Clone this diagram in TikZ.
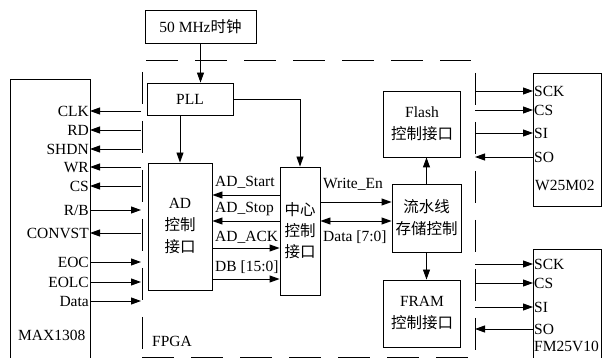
\documentclass[tikz,border=0pt]{standalone}
\usepackage{fontspec}
\setmainfont{Liberation Serif}
\newfontfamily\cjk{Noto Sans CJK SC}
\usetikzlibrary{arrows.meta}
\begin{document}
\begin{tikzpicture}[x=1pt,y=-1pt,
  font=\fontsize{15.5}{18}\selectfont,
  box/.style={draw, line width=0.9pt, inner sep=0pt, align=center, font=\fontsize{15.5}{22}\selectfont},
  arr/.style={line width=0.9pt, -{Triangle[length=10pt,width=7pt]}},
  biarr/.style={line width=0.9pt, {Triangle[length=10pt,width=7pt]}-{Triangle[length=10pt,width=7pt]}},
  ln/.style={line width=0.9pt},
  fpga/.style={line width=0.9pt, dash pattern=on 32pt off 17pt},
  pinl/.style={anchor=east, inner sep=1pt, text height=10.5pt, text depth=0pt},
  pinr/.style={anchor=west, inner sep=1pt, text height=10.5pt, text depth=0pt},
  lbl/.style={anchor=base west, inner sep=0pt},
]
\useasboundingbox (0,0) rectangle (603,358);
\clip (0,0) rectangle (603,358);

\coordinate (fl) at (141,0);
\coordinate (fr) at (475,0);

% FPGA dashed frame
\draw[fpga] (146,60) -- (471,60);
\draw[fpga] (142,357) -- (470,357);
\draw[fpga] (142,72) -- (142,352);
\draw[fpga] (475,73) -- (475,353);
\node[lbl] (fpgalbl) at (152,347) {FPGA};

% blocks
\node[box, minimum width=111pt, minimum height=33pt] (clock) at (200.5,26.5) {50 MHz{\cjk 时钟}};
\node[box, minimum width=86pt, minimum height=32pt] (pll) at (190,99) {PLL};
\node[box, minimum width=64pt, minimum height=127pt] (ad) at (180,226.5) {AD\\{\cjk 控制}\\{\cjk 接口}};
\node[box, minimum width=40pt, minimum height=128pt, font=\fontsize{15.5}{21}\selectfont] (center) at (300,231) {{\cjk 中心}\\{\cjk 控制}\\{\cjk 接口}};
\node[box, minimum width=77pt, minimum height=66pt] (flash) at (422,124) {Flash\\{\cjk 控制接口}};
\node[box, minimum width=69pt, minimum height=68pt] (pipe) at (426.5,218) {{\cjk 流水线}\\{\cjk 存储控制}};
\node[box, minimum width=77pt, minimum height=67pt] (fram) at (422,313.5) {FRAM\\{\cjk 控制接口}};

% external chips
\node[box, minimum width=80pt, minimum height=285pt] (max) at (50,221.5) {};
\node[box, minimum width=68pt, minimum height=133pt] (w25) at (567,139.5) {};
\node[box, minimum width=68pt, minimum height=115pt] (fm) at (567,306.5) {};
\node[lbl] (maxlbl) at (18,341) {MAX1308};
\node[lbl] (w25lbl) at (535,191) {W25M02};
\node[lbl] (fmlbl) at (534,352) {FM25V10};

% clock and PLL connections
\draw[arr] (clock.south) -- (clock.south |- pll.north);
\draw[arr] (ad.north |- pll.south) -- (ad.north);
\draw[arr] (pll.east) -| (center.north);

% AD <-> center
\draw[arr] (center.west |- 0,195) -- (ad.east |- 0,195);
\draw[arr] (center.west |- 0,221) -- (ad.east |- 0,221);
\draw[arr] (ad.east |- 0,248) -- (center.west |- 0,248);
\draw[arr] (ad.east |- 0,279) -- (center.west |- 0,279);
\node[lbl] (lstart) at (215,187) {AD\_Start};
\node[lbl] (lstop) at (215,213) {AD\_Stop};
\node[lbl] (lack) at (215,242) {AD\_ACK};
\node[lbl] (ldb) at (215,272) {DB [15:0]};

% center <-> pipe
\draw[arr] (center.east |- 0,202) -- (pipe.west |- 0,202);
\draw[biarr] (center.east |- 0,221) -- (pipe.west |- 0,221);
\node[lbl] (lwe) at (323,189) {Write\_En};
\node[lbl] (ldata) at (323,242) {Data [7:0]};

% pipe -> flash / fram
\draw[arr] (pipe.north) -- (pipe.north |- flash.south);
\draw[arr] (pipe.south) -- (pipe.south |- fram.north);

% MAX1308 pins
\node[pinl] (clk) at (90,111) {CLK};
\node[pinl] (rd) at (90,130) {RD};
\node[pinl] (shdn) at (90,149) {SHDN};
\node[pinl] (wr) at (90,167) {WR};
\node[pinl] (cs) at (90,186) {CS};
\node[pinl] (rb) at (90,210) {R/B};
\node[pinl] (convst) at (90,233) {CONVST};
\node[pinl] (eoc) at (90,262) {EOC};
\node[pinl] (eolc) at (90,282) {EOLC};
\node[pinl] (data) at (90,301) {Data};
\foreach \p in {clk,rd,shdn,wr,cs,convst}
  \draw[arr] (\p.east -| fl) -- (\p.east);
\foreach \p in {rb,eoc,eolc,data}
  \draw[arr] (\p.east) -- (\p.east -| fl);

% W25M02 pins
\node[pinr] (sck1) at (533,91) {SCK};
\node[pinr] (cs1) at (533,110) {CS};
\node[pinr] (si1) at (533,133) {SI};
\node[pinr] (so1) at (533,157) {SO};
% FM25V10 pins
\node[pinr] (sck2) at (533,264) {SCK};
\node[pinr] (cs2) at (533,283) {CS};
\node[pinr] (si2) at (533,307) {SI};
\node[pinr] (so2) at (533,329) {SO};
\foreach \p in {sck1,cs1,si1,sck2,cs2,si2}
  \draw[arr] (\p.west -| fr) -- (\p.west);
\foreach \p in {so1,so2}
  \draw[arr] (\p.west) -- (\p.west -| fr);
\end{tikzpicture}
\end{document}
